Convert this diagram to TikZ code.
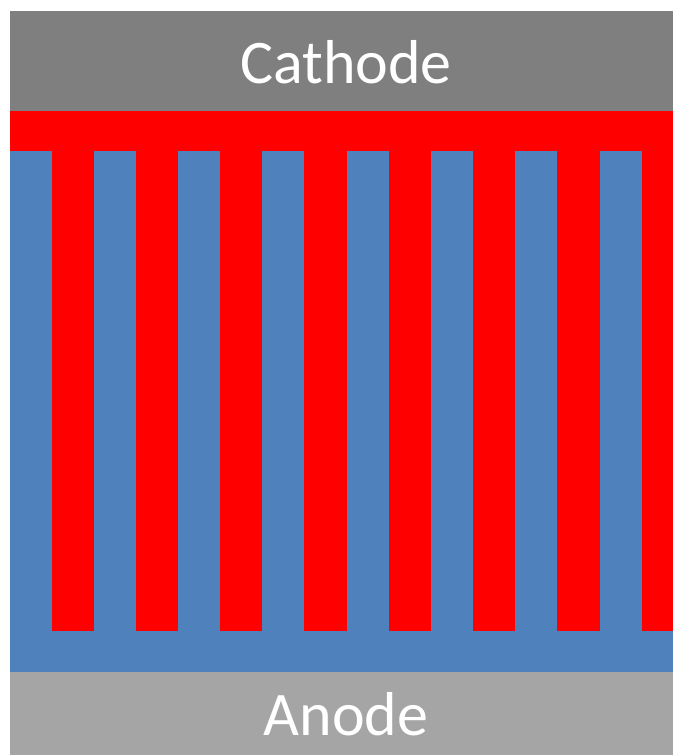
\documentclass[tikz,border=0pt]{standalone}
\usepackage{fontspec}
\setmainfont{Carlito}
\definecolor{cathodegray}{HTML}{7F7F7F}
\definecolor{anodegray}{HTML}{A5A5A5}
\definecolor{donorblue}{HTML}{4F81BD}
\definecolor{acceptorred}{HTML}{FF0000}
\newcommand{\fingerw}{42}
\newcommand{\fingerp}{84.29}
\begin{document}
\begin{tikzpicture}[x=1pt,y=-1pt]
      \useasboundingbox (0,0) rectangle (673,755);
      % electrodes
      \fill[cathodegray] (9.5,11) rectangle (673,111);
      \fill[anodegray] (9.5,672) rectangle (673,755);
      % red layer with its fingers
      \fill[acceptorred] (9.5,111) rectangle (673,631);
      % blue layer with its fingers
      \fill[donorblue] (9.5,631) rectangle (673,672);
      \foreach \k in {0,...,7}
        \fill[donorblue] ({9.5+\k*\fingerp},151) rectangle ({9.5+\k*\fingerp+\fingerw},631);
      \node (cathode) at (346,62) [text=white, font=\fontsize{62}{66}\selectfont] {Cathode};
      \node (anode) at (346,714) [text=white, font=\fontsize{62}{66}\selectfont] {Anode};
\end{tikzpicture}
\end{document}
